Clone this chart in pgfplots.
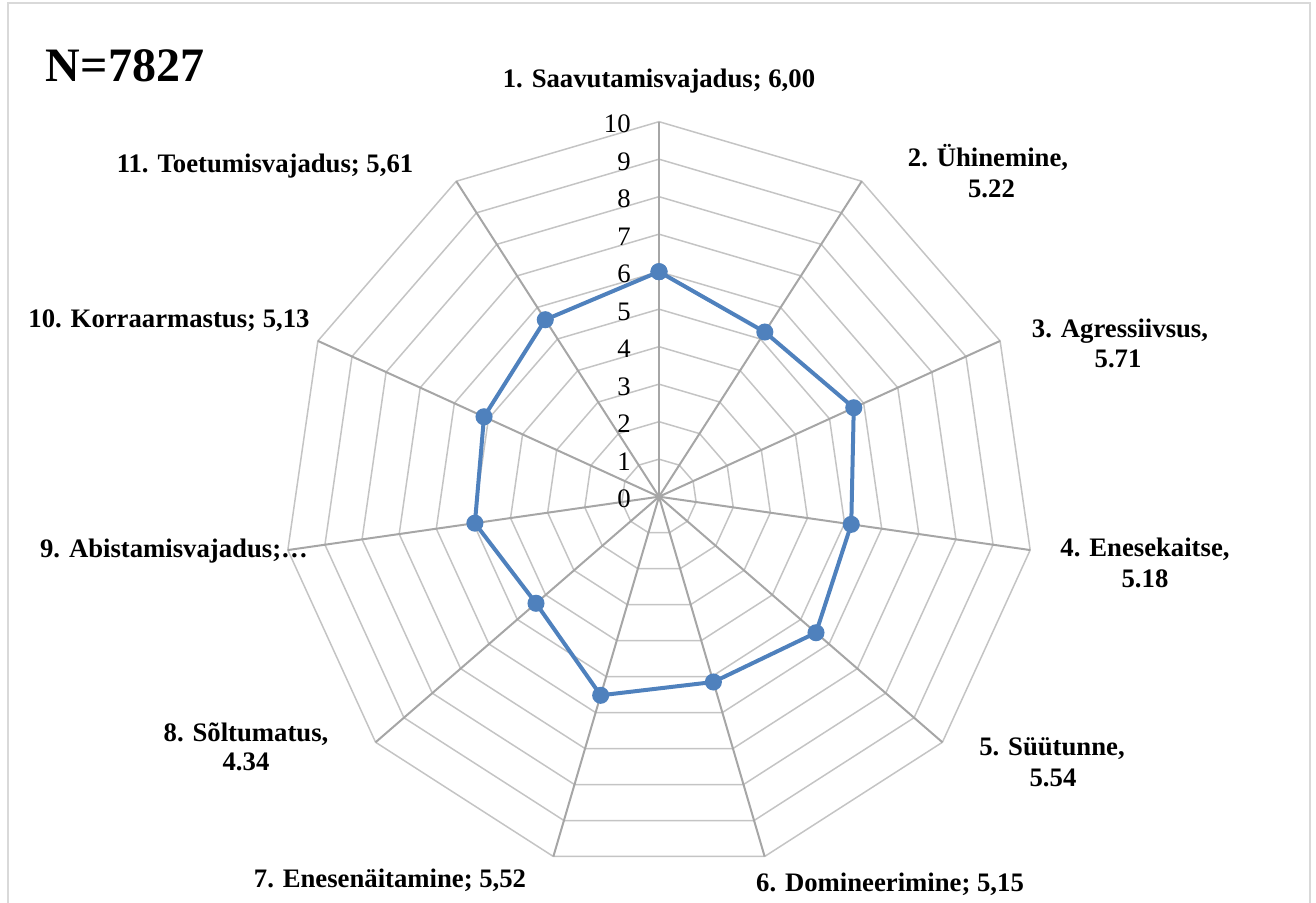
\documentclass[border=0pt]{standalone}
\usepackage{fontspec}
\setmainfont{Liberation Serif}
\usepackage{pgfplots}
\pgfplotsset{compat=1.18}
\usepgfplotslibrary{polar}
\definecolor{spoke}{HTML}{A6A6A6}
\definecolor{ring}{HTML}{C4C4C4}
\definecolor{series}{HTML}{4F81BD}
\definecolor{frame}{HTML}{D9D9D9}
\begin{document}
\begin{tikzpicture}
\begin{polaraxis}[
  hide axis, scale only axis, width=375pt, height=375pt,
  xmin=0, xmax=360, ymin=0, ymax=10, clip=false,
]
\pgfplotsinvokeforeach{1,...,10}{
  \addplot[ring, line width=0.75pt, mark=none] coordinates {(90,#1) (57.2727,#1) (24.5455,#1) (351.8182,#1) (319.0909,#1) (286.3636,#1) (253.6364,#1) (220.9091,#1) (188.1818,#1) (155.4545,#1) (122.7273,#1) (90,#1)};
}
\pgfplotsinvokeforeach{90,57.2727,24.5455,351.8182,319.0909,286.3636,253.6364,220.9091,188.1818,155.4545,122.7273}{
  \addplot[spoke, line width=1pt, mark=none] coordinates {(#1,0) (#1,10)};
}
\addplot[series, line width=2pt, mark=*, mark size=3.25pt, mark options={fill=series, solid}] coordinates {
  (90,6.00) (57.2727,5.22) (24.5455,5.71) (351.8182,5.18) (319.0909,5.54) (286.3636,5.15)
  (253.6364,5.52) (220.9091,4.34) (188.1818,4.96) (155.4545,5.13) (122.7273,5.61) (90,6.00)};
\coordinate (C) at (axis cs:0,0);
\end{polaraxis}
\begin{scope}[shift={(C)}]
\begin{scope}[x=0.5pt,y=-0.5pt]
\begin{scope}[shift={(-659,-496.7)}]
\draw[frame, line width=1pt] (8,3) rectangle (1310,930);
\foreach \k in {0,...,10}{
  \node[anchor=base east, inner sep=0pt, font=\fontsize{13.35pt}{16pt}\selectfont] at (631,{496.7-37.5*\k+11}) {\k};
}
\begin{scope}[every node/.style={anchor=base, inner sep=0pt, font=\fontsize{13.35pt}{16pt}\selectfont\bfseries}]
\node at (659,88) {1. Saavutamisvajadus; 6,00};
\node at (988,167) {2. Ühinemine,};
\node at (991.5,198) {5.22};
\node at (1120,338) {3. Agressiivsus,};
\node at (1118,368) {5.71};
\node at (1145,557) {4. Enesekaitse,};
\node at (1145,588) {5.18};
\node at (1052,756) {5. Süütunne,};
\node at (1053,787) {5.54};
\node at (890,892) {6. Domineerimine; 5,15};
\node at (390,888) {7. Enesenäitamine; 5,52};
\node at (246,742) {8. Sõltumatus,};
\node at (246,771) {4.34};
\node at (174,558) {9. Abistamisvajadus;…};
\node at (169,328) {10. Korraarmastus; 5,13};
\node at (265,173) {11. Toetumisvajadus; 5,61};
\end{scope}
\node[anchor=base, inner sep=0pt, font=\fontsize{24pt}{28pt}\selectfont\bfseries] at (125,82) {N=7827};
\pgfresetboundingbox
\useasboundingbox (0,0) rectangle (1316,903);
\end{scope}
\end{scope}
\end{scope}
\end{tikzpicture}
\end{document}
